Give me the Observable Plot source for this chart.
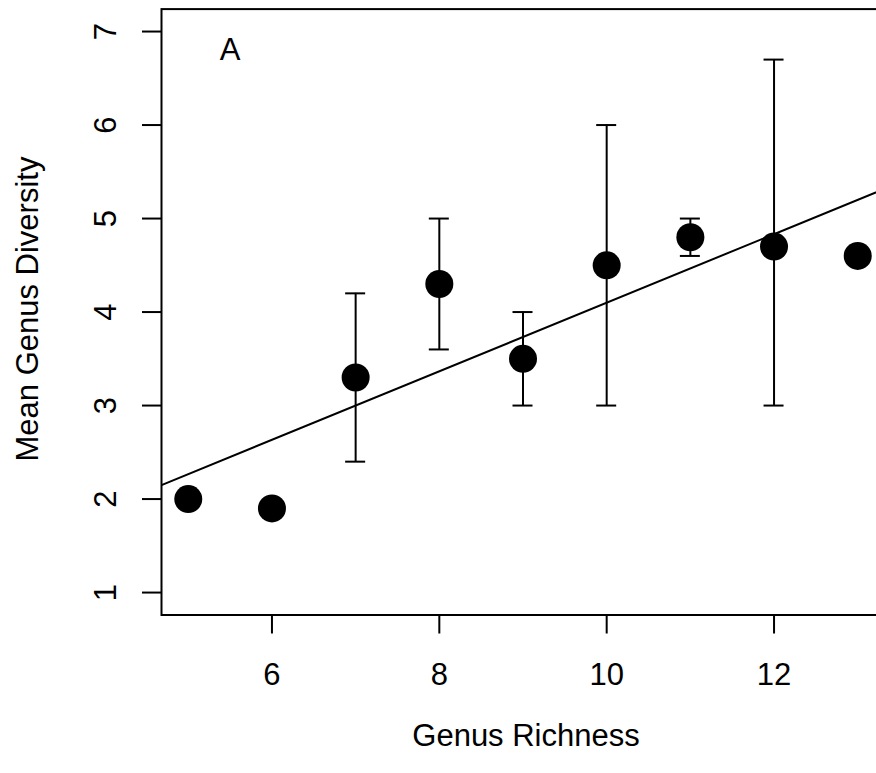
<!DOCTYPE html>
<html><head><meta charset="utf-8">
<script src="https://cdn.jsdelivr.net/npm/d3@7"></script>
<script src="https://cdn.jsdelivr.net/npm/@observablehq/plot@0.6"></script>
<style>
html, body { margin: 0; padding: 0; overflow: hidden; background: #fff; }
</style>
</head><body><div id="chart"></div>
<script>
// ---- data ----
const richness      = [5, 6, 7, 8, 9, 10, 11, 12, 13];
const meanDiversity = [2.0, 1.9, 3.3, 4.3, 3.5, 4.5, 4.8, 4.7, 4.6];
const errLow        = [null, null, 2.4, 3.6, 3.0, 3.0, 4.6, 3.0, null];
const errHigh       = [null, null, 4.2, 5.0, 4.0, 6.0, 5.0, 6.7, null];
const xTicks = [6, 8, 10, 12];
const yTicks = [1, 2, 3, 4, 5, 6, 7];
const yLimits = [1, 7];
const panelLabel = "A";
const xLabel = "Genus Richness";
const yLabel = "Mean Genus Diversity";

// ---- derived tables ----
const points = richness.map((x, i) => ({x, y: meanDiversity[i], lo: errLow[i], hi: errHigh[i]}));
const bars = points.filter(d => d.lo != null && d.hi != null);

// R-style 4% axis expansion
const xExt = d3.extent(richness);
const xPad = (xExt[1] - xExt[0]) * 0.04;
const xDomain = [xExt[0] - xPad, xExt[1] + xPad];
const yPad = (yLimits[1] - yLimits[0]) * 0.04;
const yDomain = [yLimits[0] - yPad, yLimits[1] + yPad];

// least-squares fit of the means (abline across the whole panel)
const mx = d3.mean(richness), my = d3.mean(meanDiversity);
const slope = d3.sum(richness, (x, i) => (x - mx) * (meanDiversity[i] - my)) /
              d3.sum(richness, x => (x - mx) ** 2);
const intercept = my - slope * mx;
const fitPts = xDomain.map(x => ({x, y: intercept + slope * x}));

const FONT = "'Liberation Sans', Arial, Helvetica, sans-serif";
const FS = 31;
const fmt = d3.format("d");

const chart = Plot.plot({
  width: 884,
  height: 773,
  marginLeft: 161,
  marginRight: 0,
  marginTop: 8.6,
  marginBottom: 158.5,
  style: { fontFamily: FONT, fontSize: FS + "px", color: "black", background: "white", maxWidth: "none" },
  x: { domain: xDomain },
  y: { domain: yDomain },
  marks: [
    Plot.frame({ stroke: "black", strokeWidth: 2 }),
    Plot.axisX({ ticks: xTicks, tickFormat: fmt, tickSize: 19, tickPadding: 29, strokeWidth: 2, label: null, fontSize: FS }),
    Plot.axisY({ ticks: yTicks, tickFormat: fmt, tickSize: 19, tickPadding: 27, tickRotate: -90, strokeWidth: 2, label: null, fontSize: FS }),
    Plot.line(fitPts, { x: "x", y: "y", stroke: "black", strokeWidth: 2, clip: true }),
    Plot.ruleX(bars, { x: "x", y1: "lo", y2: "hi", stroke: "black", strokeWidth: 2 }),
    Plot.ruleY(bars, { y: "lo", x1: "x", x2: "x", insetLeft: -10, insetRight: -10, stroke: "black", strokeWidth: 2 }),
    Plot.ruleY(bars, { y: "hi", x1: "x", x2: "x", insetLeft: -10, insetRight: -10, stroke: "black", strokeWidth: 2 }),
    Plot.dot(points, { x: "x", y: "y", r: 14, fill: "black", stroke: null }),
    Plot.text([panelLabel], { text: d => d, frameAnchor: "top-left", dx: 68.5, dy: 28.5, textAnchor: "middle", lineAnchor: "top", fontSize: FS, fill: "black" }),
    Plot.text([xLabel], { text: d => d, frameAnchor: "bottom", dx: 3, dy: 131.3, textAnchor: "middle", lineAnchor: "bottom", fontSize: FS, fill: "black" }),
    Plot.text([yLabel], { text: d => d, frameAnchor: "left", dx: -123.5, dy: -3, rotate: -90, textAnchor: "middle", lineAnchor: "bottom", fontSize: FS, fill: "black" })
  ]
});
document.getElementById("chart").appendChild(chart);
</script>
</body></html>
